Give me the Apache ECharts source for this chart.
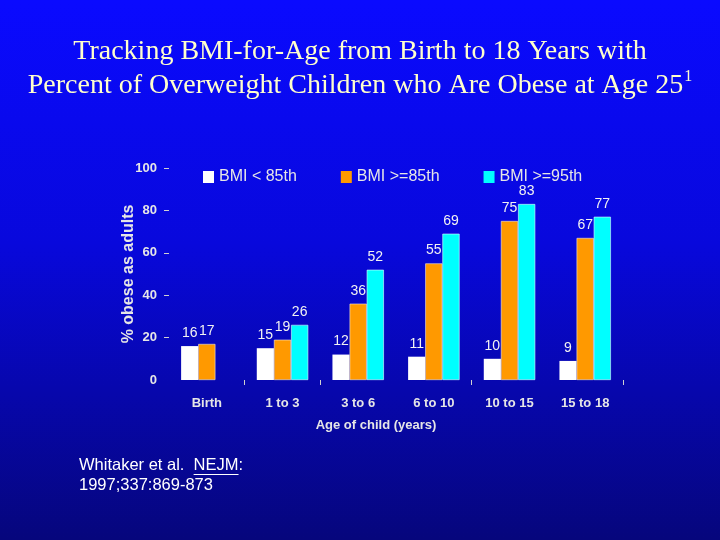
<!DOCTYPE html>
<html>
<head>
<meta charset="utf-8">
<script src="https://cdn.jsdelivr.net/npm/echarts@6/dist/echarts.min.js"></script>
<style>
html,body{margin:0;padding:0;}
#c{width:720px;height:540px;}
</style>
</head>
<body>
<div id="c"></div>
<script>
const categories = ['Birth', '1 to 3', '3 to 6', '6 to 10', '10 to 15', '15 to 18'];
const seriesNames = ['BMI < 85th', 'BMI >=85th', 'BMI >=95th'];
const below85 = [16, 15, 12, 11, 10, 9];
const atLeast85 = [17, 19, 36, 55, 75, 67];
const atLeast95 = [null, 26, 52, 69, 83, 77];
const yTicks = [20, 40, 60, 80, 100];
const noteLine1a = 'Whitaker et al.  ';
const noteLine1b = 'NEJM';
const noteLine1c = ':';
const noteLine2 = '1997;337:869-873';

const sans = 'Liberation Sans, Arial, sans-serif';
const noteFont = '16.5px Liberation Sans, Arial, sans-serif';
const labelStyle = {
  show: true, position: 'top', distance: 6,
  color: '#f2f2f2', fontFamily: sans, fontSize: 14
};

// measure footnote pieces for the underline
const mctx = document.createElement('canvas').getContext('2d');
mctx.font = noteFont;
const wA = mctx.measureText(noteLine1a).width;
const wB = mctx.measureText(noteLine1b).width;
const noteX = 79;

const chart = echarts.init(document.getElementById('c'));
chart.setOption({
  backgroundColor: {
    type: 'linear', x: 0, y: 0, x2: 0, y2: 1,
    colorStops: [
      { offset: 0, color: '#0a0aff' },
      { offset: 0.45, color: '#0808dc' },
      { offset: 1, color: '#06067c' }
    ]
  },
  animation: false,
  title: {
    text: 'Tracking BMI-for-Age from Birth to 18 Years with\nPercent of Overweight Children who Are Obese at Age 25{sup|1}',
    left: 'center', top: 30,
    textStyle: {
      color: '#ffffcc', fontFamily: 'Liberation Serif, Times New Roman, serif',
      fontSize: 28, fontWeight: 'normal', lineHeight: 34,
      rich: {
        sup: { fontSize: 16, color: '#ffffcc', fontFamily: 'Liberation Serif, serif', verticalAlign: 'top', lineHeight: 34, padding: [0, 0, 10, 1] }
      }
    }
  },
  legend: {
    data: seriesNames,
    left: 198, top: 164,
    itemWidth: 11, itemHeight: 12, itemGap: 44,
    icon: 'rect',
    itemStyle: { borderWidth: 0 },
    textStyle: { color: '#e6e6e6', fontFamily: sans, fontSize: 16 }
  },
  grid: { left: 169, right: 97, top: 168, bottom: 160 },
  xAxis: {
    type: 'category',
    data: categories,
    axisLine: { show: false },
    axisTick: { show: true, length: 5, lineStyle: { color: '#d0d0d0' },
      interval: function (index) { return index === 1 || index === 2 || index === 4; } },
    axisLabel: { color: '#e6e6e6', fontFamily: sans, fontWeight: 'bold', fontSize: 13, margin: 17, interval: 0 },
    name: 'Age of child (years)',
    nameLocation: 'middle', nameGap: 39,
    nameTextStyle: { color: '#e6e6e6', fontFamily: sans, fontWeight: 'bold', fontSize: 13, padding: [0, 40, 0, 0] }
  },
  yAxis: {
    type: 'value', min: 0, max: 100, interval: 20,
    splitLine: { show: false },
    axisLine: { show: false },
    axisTick: { show: true, length: 5, customValues: yTicks, lineStyle: { color: '#d0d0d0' } },
    axisLabel: { color: '#e6e6e6', fontFamily: sans, fontWeight: 'bold', fontSize: 13, margin: 12 },
    name: '% obese as adults',
    nameLocation: 'middle', nameGap: 32, nameRotate: 90, nameMoveOverlap: false,
    nameTextStyle: { color: '#e6e6e6', fontFamily: sans, fontWeight: 'bold', fontSize: 16 }
  },
  series: [
    { name: seriesNames[0], type: 'bar', data: below85, barGap: '0%', barCategoryGap: '32%',
      itemStyle: { color: '#ffffff' }, label: labelStyle },
    { name: seriesNames[1], type: 'bar', data: atLeast85, barGap: '0%', barCategoryGap: '32%',
      itemStyle: { color: '#ff9900', borderColor: '#f4e8d8', borderWidth: 0.6 }, label: labelStyle },
    { name: seriesNames[2], type: 'bar', data: atLeast95, barGap: '0%', barCategoryGap: '32%',
      itemStyle: { color: '#00ffff', borderColor: '#e0ffff', borderWidth: 0.6 }, label: labelStyle }
  ],
  graphic: [
    { type: 'text', left: noteX, top: 457,
      style: { text: noteLine1a + noteLine1b + noteLine1c, fill: '#ffffff', font: noteFont } },
    { type: 'text', left: noteX, top: 477,
      style: { text: noteLine2, fill: '#ffffff', font: noteFont } },
    { type: 'line', shape: { x1: noteX + wA, y1: 474.5, x2: noteX + wA + wB, y2: 474.5 },
      style: { stroke: '#ffffff', lineWidth: 1 } }
  ]
});
</script>
</body>
</html>
